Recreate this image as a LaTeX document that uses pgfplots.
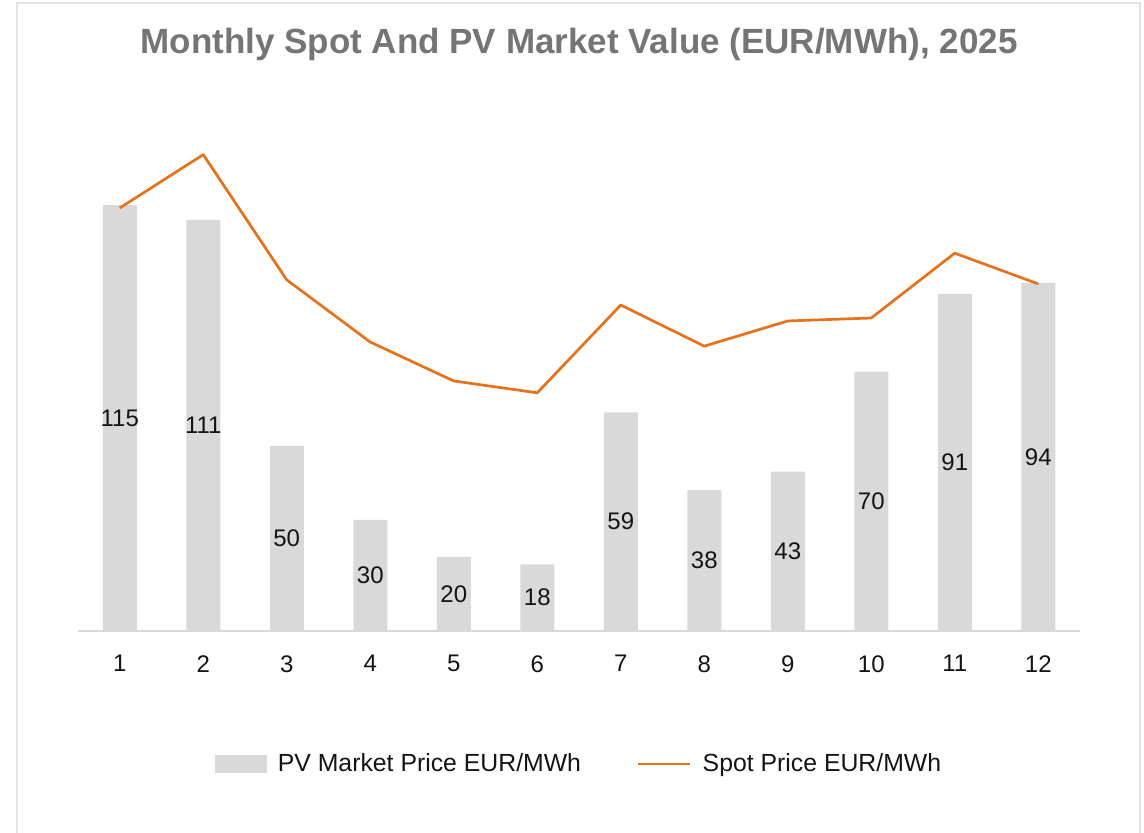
\documentclass[border=0pt]{standalone}
\usepackage{pgfplots}
\pgfplotsset{compat=1.18}
\usepackage{fontspec}
\setmainfont{Liberation Sans}
\definecolor{barc}{HTML}{D9D9D9}
\definecolor{spot}{HTML}{E8711C}
\definecolor{titlec}{HTML}{757575}
\definecolor{framec}{HTML}{E3E3E3}
\begin{document}
\begin{tikzpicture}[x=1pt,y=1pt]
\useasboundingbox (0,0) rectangle (572,416);
\draw[framec, line width=1pt] (8.5,-2) -- (8.5,414.5) -- (570,414.5) -- (570,-2);
\node[font=\fontsize{17.5}{21}\selectfont\bfseries, text=titlec] at (289.5,393.8) {Monthly Spot And PV Market Value (EUR/MWh), 2025};
\begin{axis}[
  at={(39pt,100.5pt)}, anchor=south west, scale only axis,
  width=501pt, height=259.3pt,
  xmin=0.5, xmax=12.5, ymin=0, ymax=140,
  axis x line*=bottom, axis y line=none,
  x axis line style={barc, line width=0.8pt},
  xtick={1,2,3,4,5,6,7,8,9,10,11,12},
  xticklabels={1,2,3,4,5,6,7,8,9,10,11,12},
  major tick length=0pt,
  xticklabel style={font=\fontsize{12}{14}\selectfont, text=black!92, yshift=-8.7pt},
  /pgf/number format/assume math mode=true,
  legend style={at={(0.501,-0.2565)}, anchor=center, draw=none, fill=none,
    legend columns=2, font=\fontsize{12.4}{14}\selectfont, text=black!92,
    /tikz/every odd column/.append style={column sep=3.5pt},
    /tikz/every even column/.append style={column sep=26pt}},
  legend cell align=left,
]
\addplot[ybar, bar width=17pt, fill=barc, draw=none,
  visualization depends on={y \as \rawy},
  nodes near coords,
  every node near coord/.append style={anchor=center, text=black!92,
    font=\fontsize{12}{14}\selectfont,
    shift={(axis direction cs:0,-\rawy/2)}},
  legend image code/.code={\fill[barc] (0pt,-4.3pt) rectangle (26pt,4.3pt);}]
coordinates {(1,115) (2,111) (3,50) (4,30) (5,20) (6,18) (7,59) (8,38) (9,43) (10,70) (11,91) (12,94)};
\addlegendentry{PV Market Price EUR/MWh}
\addplot[spot, line width=1.35pt, mark=none, line join=round,
  legend image code/.code={\draw[spot, line width=1.35pt] (0pt,0pt) -- (26pt,0pt);}]
coordinates {(1,114.2) (2,128.6) (3,94.8) (4,78.0) (5,67.5) (6,64.3) (7,88.0) (8,76.9) (9,83.7) (10,84.5) (11,102.0) (12,93.7)};
\addlegendentry{Spot Price EUR/MWh}
\end{axis}
\end{tikzpicture}
\end{document}
